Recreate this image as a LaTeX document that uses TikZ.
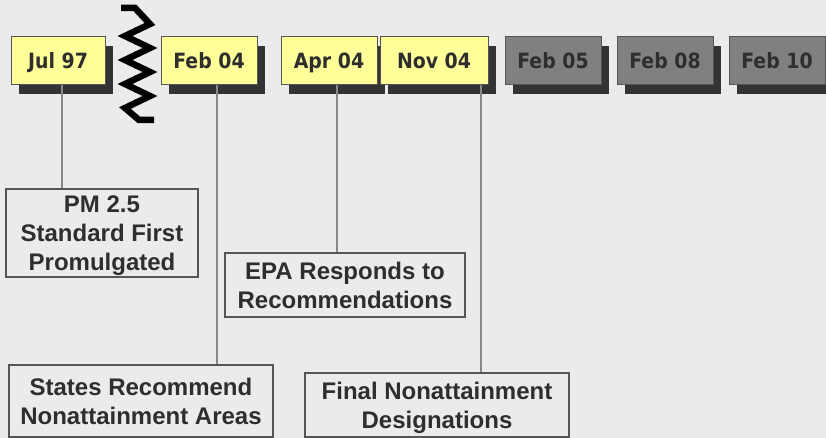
\documentclass[tikz,border=0pt]{standalone}
\usepackage{fontspec}
\setmainfont{Liberation Sans}
\newfontfamily\datefont[FakeStretch=0.9]{DejaVu Sans}
\usetikzlibrary{shadows}
\definecolor{bg}{HTML}{EBEBEB}
\definecolor{yel}{HTML}{FFFF99}
\definecolor{grey}{HTML}{808080}
\definecolor{shad}{HTML}{333333}
\definecolor{txt}{HTML}{2E2E2E}
\definecolor{bord}{HTML}{555555}
\definecolor{conn}{HTML}{888888}
\tikzset{
  datebox/.style={draw=bord, line width=1pt, minimum height=48pt, minimum width=96pt,
    inner sep=0pt, text height=15.5pt, text depth=0pt, text=txt,
    font=\datefont\bfseries\fontsize{21}{24}\selectfont,
    general shadow={fill=shad, shadow xshift=8pt, shadow yshift=-9pt}},
  past/.style={datebox, fill=yel},
  future/.style={datebox, fill=grey},
  eventbox/.style={draw=bord, line width=1.2pt, fill=bg, inner sep=0pt, align=center,
    text=txt, font=\bfseries\fontsize{24}{29}\selectfont},
  conn/.style={draw=conn, line width=1.5pt}
}
\begin{document}
\begin{tikzpicture}[x=1pt,y=-1pt]
\fill[bg] (0,0) rectangle (826,438);
\useasboundingbox (0,0) rectangle (826,438);

\node[past, minimum width=94pt] (jul) at (58,61) {Jul 97};
\node[past] (feb4) at (209,61) {Feb 04};
\node[past] (apr) at (329,61) {Apr 04};
\node[past, minimum width=108pt] (nov) at (434,61) {Nov 04};
\node[future] (feb5) at (553,61) {Feb 05};
\node[future] (feb8) at (665,61) {Feb 08};
\node[future] (feb10) at (777,61) {Feb 10};

% break mark
\draw[black, line width=6.5pt, line join=miter, miter limit=10]
  (121,8) -- (135,8) -- (150,24) -- (125,36) -- (150,48) -- (125,60) -- (150,72)
  -- (125,84) -- (150,96) -- (125,108) -- (139,120) -- (154,120);

\node[eventbox, minimum width=192pt, minimum height=88pt] (pm) at (102,233) {};
\node[align=center, text=txt, font=\bfseries\fontsize{24}{29}\selectfont, inner sep=0pt]
  (pmtext) at (102,236) {PM 2.5\\Standard First\\Promulgated};
\node[eventbox, minimum width=240pt, minimum height=64pt] (epa) at (345,285)
  {EPA Responds to\\Recommendations};
\node[eventbox, minimum width=264pt, minimum height=72pt] (states) at (141,401)
  {States Recommend\\Nonattainment Areas};
\node[eventbox, minimum width=264pt, minimum height=64pt] (final) at (437,405) {};
\node[align=center, text=txt, font=\bfseries\fontsize{24}{29}\selectfont, inner sep=0pt]
  (finaltext) at (437,408) {Final Nonattainment\\Designations};

\draw[conn] ([xshift=4pt]jul.south) -- ([xshift=4pt]jul.south |- pm.north);
\draw[conn] ([xshift=8pt]feb4.south) -- ([xshift=8pt]feb4.south |- states.north);
\draw[conn] ([xshift=8pt]apr.south) -- ([xshift=8pt]apr.south |- epa.north);
\draw[conn] ([xshift=47pt]nov.south) -- ([xshift=47pt]nov.south |- final.north);
\end{tikzpicture}
\end{document}
